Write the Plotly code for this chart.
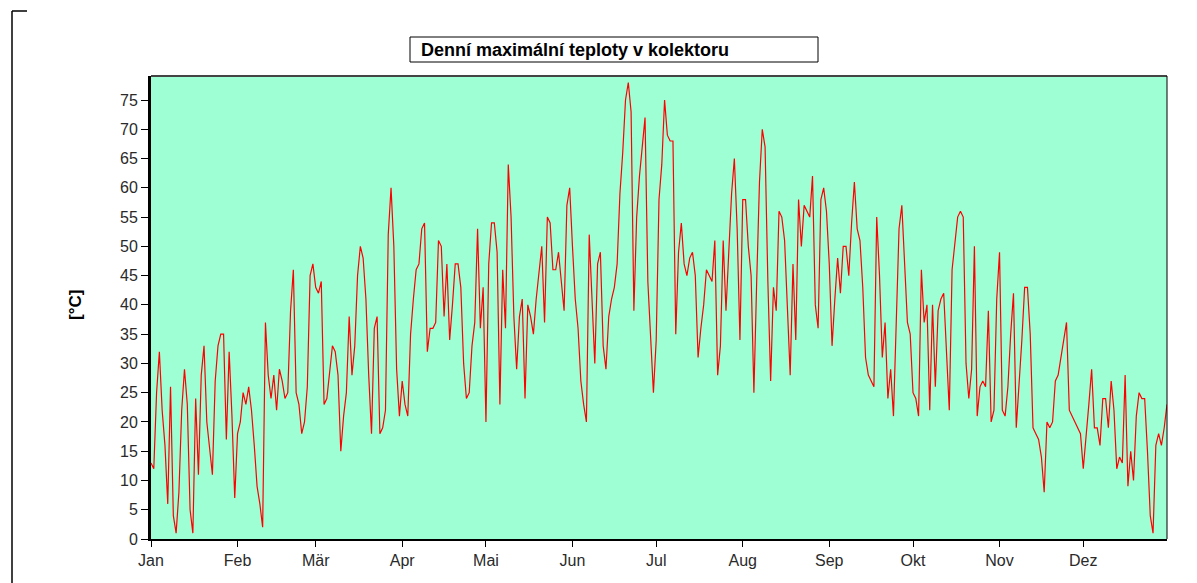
import plotly.graph_objects as go

# Daily maximum collector temperatures [°C], one list per month
jan = [13, 12, 25, 32, 22, 16, 6, 26, 4, 1, 8, 22, 29, 23, 5, 1, 24, 11, 28, 33,
       20, 16, 11, 27, 33, 35, 35, 17, 32, 21, 7]
feb = [18, 20, 25, 23, 26, 22, 16, 9, 6, 2, 37, 28, 24, 28, 22, 29, 27, 24, 25, 39,
       46, 25, 23, 18, 20, 26, 45, 47]
mar = [43, 42, 44, 23, 24, 29, 33, 32, 28, 15, 21, 25, 38, 28, 33, 45, 50, 48, 41, 28,
       18, 36, 38, 18, 19, 22, 52, 60, 50, 29, 21]
apr = [27, 23, 21, 35, 41, 46, 47, 53, 54, 32, 36, 36, 37, 51, 50, 38, 47, 34, 40, 47,
       47, 43, 30, 24, 25, 33, 37, 53, 36, 43]
mai = [20, 47, 54, 54, 49, 23, 46, 36, 64, 55, 38, 29, 38, 41, 24, 40, 38, 35, 41, 45,
       50, 37, 55, 54, 46, 46, 49, 44, 39, 57, 60]
jun = [50, 41, 36, 27, 23, 20, 52, 42, 30, 47, 49, 33, 29, 38, 41, 43, 47, 59, 66, 75,
       78, 73, 39, 55, 62, 67, 72, 44, 34, 25]
jul = [34, 58, 64, 75, 69, 68, 68, 35, 49, 54, 47, 45, 48, 49, 45, 31, 36, 40, 46, 45,
       44, 51, 28, 33, 51, 39, 48, 59, 65, 53, 34]
aug = [58, 58, 50, 45, 25, 44, 61, 70, 67, 44, 27, 43, 39, 56, 55, 51, 40, 28, 47, 34,
       58, 50, 57, 56, 55, 62, 40, 36, 58, 60, 56]
sep = [47, 33, 41, 48, 42, 50, 50, 45, 54, 61, 53, 51, 43, 31, 28, 27, 26, 55, 45, 31,
       37, 24, 29, 21, 36, 53, 57, 46, 37, 35]
okt = [25, 24, 21, 46, 37, 40, 22, 40, 26, 39, 41, 42, 31, 22, 46, 51, 55, 56, 55, 30,
       24, 29, 50, 21, 26, 27, 26, 39, 20, 22, 41]
nov = [49, 22, 21, 26, 35, 42, 19, 26, 34, 43, 43, 35, 19, 18, 17, 14, 8, 20, 19, 20,
       27, 28, 31, 34, 37, 22, 21, 20, 19, 18]
dez = [12, 17, 23, 29, 19, 19, 16, 24, 24, 19, 27, 22, 12, 14, 13, 28, 9, 15, 10, 21,
       25, 24, 24, 15, 4, 1, 16, 18, 16, 19, 23]

months = [jan, feb, mar, apr, mai, jun, jul, aug, sep, okt, nov, dez]
month_labels = ["Jan", "Feb", "Mär", "Apr", "Mai", "Jun",
                "Jul", "Aug", "Sep", "Okt", "Nov", "Dez"]
y_ticks = [0, 5, 10, 15, 20, 25, 30, 35, 40, 45, 50, 55, 60, 65, 70, 75]

temps = [v for m in months for v in m]
days = list(range(len(temps)))

month_starts = []
pos = 0
for m in months:
    month_starts.append(pos)
    pos += len(m)

W, H = 1197, 583
L, R, T, B = 151, 1167, 76, 539


def px(x):
    return (x - L) / (R - L)


def py(y):
    return (B - y) / (B - T)


fig = go.Figure()
fig.add_trace(go.Scatter(
    x=days, y=temps, mode="lines",
    line=dict(color="#ff0000", width=1.2),
    hoverinfo="skip", showlegend=False,
))

FONT = "Liberation Sans, Arial, sans-serif"
axis_font = dict(family=FONT, size=16, color="#2a2a2a")

fig.update_layout(
    width=W, height=H,
    margin=dict(l=L, r=W - R, t=T, b=H - B, pad=0),
    paper_bgcolor="white",
    plot_bgcolor="#9effd5",
    xaxis=dict(
        range=[0, len(temps) - 1],
        tickvals=month_starts, ticktext=month_labels,
        ticks="outside", ticklen=6, tickwidth=1, tickcolor="#000000",
        showline=True, linecolor="#000000", linewidth=2,
        showgrid=False, zeroline=False, tickfont=axis_font,
    ),
    yaxis=dict(
        range=[0, (B - T) / 5.853],
        tickvals=y_ticks,
        ticks="outside", ticklen=7, tickwidth=1, tickcolor="#000000",
        showline=True, linecolor="#000000", linewidth=3,
        showgrid=False, zeroline=False, tickfont=axis_font,
    ),
    shapes=[
        # top and right borders of the plot area
        dict(type="line", xref="paper", yref="paper", x0=0, x1=1, y0=1, y1=1,
             line=dict(color="#444444", width=2)),
        dict(type="line", xref="paper", yref="paper", x0=1, x1=1, y0=0, y1=1,
             line=dict(color="#000000", width=1)),
        # title frame
        dict(type="rect", xref="paper", yref="paper",
             x0=px(410), x1=px(818), y0=py(62), y1=py(37),
             line=dict(color="#000000", width=1), fillcolor="white"),
        # page corner bracket
        dict(type="line", xref="paper", yref="paper",
             x0=px(12), x1=px(12), y0=py(11), y1=py(583),
             line=dict(color="#000000", width=1.5)),
        dict(type="line", xref="paper", yref="paper",
             x0=px(12), x1=px(27), y0=py(11), y1=py(11),
             line=dict(color="#000000", width=1.5)),
    ],
    annotations=[
        dict(text="<b>Denní maximální teploty v kolektoru</b>",
             xref="paper", yref="paper", x=px(419), y=py(49.5),
             xanchor="left", yanchor="middle", showarrow=False,
             font=dict(family=FONT, size=18, color="#000000")),
        dict(text="<b>[°C]</b>", textangle=-90,
             xref="paper", yref="paper", x=px(75), y=py(305),
             xanchor="center", yanchor="middle", showarrow=False,
             font=dict(family=FONT, size=17, color="#000000")),
    ],
)

fig.write_html("out.html")
